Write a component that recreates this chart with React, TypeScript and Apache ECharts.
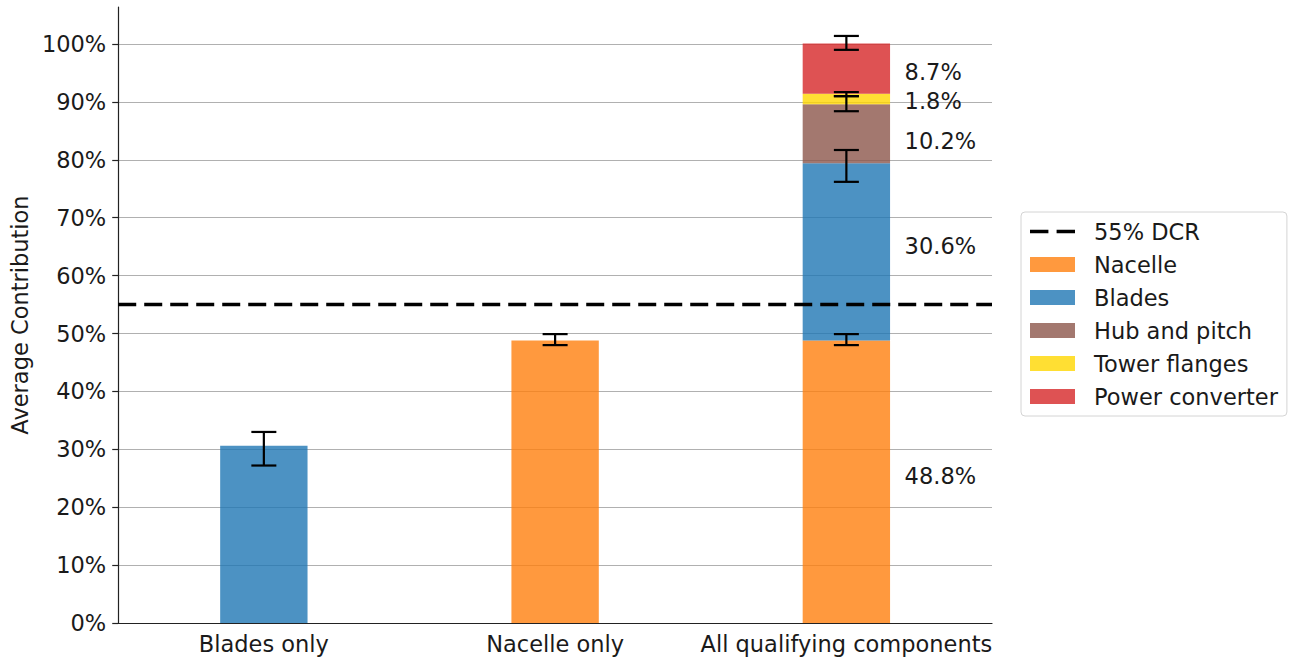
import React, { useEffect, useRef } from "react";
import * as echarts from "echarts";

const categories = ["Blades only", "Nacelle only", "All qualifying components"];
const nacelle = [0, 48.8, 48.8];
const blades = [30.6, 0, 30.6];
const hubPitch = [0, 0, 10.2];
const towerFlanges = [0, 0, 1.8];
const powerConverter = [0, 0, 8.7];
const dcrLevel = 55;
// [categoryIndex, low, high]
const errorBars = [
  [0, 27.2, 33.0],
  [1, 48.0, 49.9],
  [2, 48.0, 49.9],
  [2, 76.2, 81.7],
  [2, 88.4, 91.0],
  [2, 91.0, 91.7],
  [2, 99.0, 101.4],
];
const segmentLabels = ["48.8%", "30.6%", "10.2%", "1.8%", "8.7%"];
const segmentLabelY = [25.4, 65.1, 83.25, 90.2, 95.2];
const yMax = 106.4;

const FONT = "DejaVu Sans";
const TXT = "#1a1a1a";
const FS = 22.5;

export default function App() {
  const ref = useRef<HTMLDivElement>(null);
  useEffect(() => {
    const chart = echarts.init(ref.current!, null, { renderer: "svg" });
    const barSeries = (name: string, data: number[], color: string) => ({
      name,
      type: "bar",
      stack: "total",
      barWidth: "30%",
      data,
      itemStyle: { color },
      z: 2,
    });
    chart.setOption({
      animation: false,
      textStyle: { fontFamily: FONT },
      grid: { left: 115, right: 299, top: 7, bottom: 36, containLabel: false },
      legend: {
        orient: "vertical",
        left: 1021,
        top: 212,
        width: 267,
        padding: [8, 9, 8, 9],
        itemWidth: 45,
        itemHeight: 15,
        itemGap: 10,
        backgroundColor: "#fff",
        borderColor: "#d4d4d4",
        borderWidth: 1,
        borderRadius: 4,
        textStyle: { fontFamily: FONT, fontSize: FS, color: TXT, lineHeight: 22, padding: [0, 0, 0, 14] },
        data: [
          { name: "55% DCR", icon: "path://M0,0h18v3.5h-18z M26,0h18v3.5h-18z", itemStyle: { color: "#000" } },
          { name: "Nacelle", icon: "rect" },
          { name: "Blades", icon: "rect" },
          { name: "Hub and pitch", icon: "rect" },
          { name: "Tower flanges", icon: "rect" },
          { name: "Power converter", icon: "rect" },
        ],
      },
      xAxis: [
        {
          type: "category",
          data: categories,
          axisLine: { lineStyle: { color: "#222", width: 1.2 } },
          axisTick: { alignWithLabel: true, length: 6, lineStyle: { color: "#222", width: 1.2 } },
          axisLabel: { fontFamily: FONT, fontSize: FS, color: TXT, margin: 9, interval: 0 },
        },
        { type: "value", min: 0, max: 1, show: false },
      ],
      yAxis: {
        type: "value",
        min: 0,
        max: yMax,
        interval: 10,
        name: "Average Contribution",
        nameLocation: "middle",
        nameGap: 71,
        nameTextStyle: { fontFamily: FONT, fontSize: FS, color: TXT },
        axisLine: { show: true, lineStyle: { color: "#222", width: 1.2 } },
        axisTick: { show: true, length: 6, lineStyle: { color: "#222", width: 1.2 } },
        axisLabel: {
          fontFamily: FONT,
          fontSize: FS,
          color: TXT,
          margin: 12,
          showMaxLabel: false,
          formatter: (v: number) => (Math.abs(v % 10) < 1e-6 ? `${v}%` : ""),
        },
        splitLine: { show: true, showMaxLine: false, lineStyle: { color: "#b0b0b0", width: 1.2 } },
      },
      series: [
        {
          name: "55% DCR",
          type: "line",
          xAxisIndex: 1,
          data: [
            [0, dcrLevel],
            [1, dcrLevel],
          ],
          symbol: "none",
          lineStyle: { color: "#000", width: 3.5, type: [18, 8] },
          itemStyle: { color: "#000" },
          z: 4,
        },
        barSeries("Nacelle", nacelle, "rgba(255,127,14,0.8)"),
        barSeries("Blades", blades, "rgba(31,119,180,0.8)"),
        barSeries("Hub and pitch", hubPitch, "rgba(140,86,75,0.8)"),
        barSeries("Tower flanges", towerFlanges, "rgba(255,215,0,0.8)"),
        barSeries("Power converter", powerConverter, "rgba(214,39,40,0.8)"),
        {
          type: "custom",
          name: "errors",
          data: errorBars,
          encode: { x: 0, y: [1, 2] },
          z: 5,
          clip: false,
          renderItem: (params: any, api: any) => {
            const x = api.value(0);
            const lo = api.coord([x, api.value(1)]);
            const hi = api.coord([x, api.value(2)]);
            const hw = 12.5;
            const st = { stroke: "#000", lineWidth: 2.2 };
            return {
              type: "group",
              children: [
                { type: "line", shape: { x1: lo[0], y1: lo[1], x2: hi[0], y2: hi[1] }, style: st },
                { type: "line", shape: { x1: lo[0] - hw, y1: lo[1], x2: lo[0] + hw, y2: lo[1] }, style: st },
                { type: "line", shape: { x1: hi[0] - hw, y1: hi[1], x2: hi[0] + hw, y2: hi[1] }, style: st },
              ],
            };
          },
        },
        {
          type: "custom",
          name: "labels",
          data: segmentLabelY.map((y) => [2, y]),
          encode: { x: 0, y: 1 },
          z: 6,
          clip: false,
          renderItem: (params: any, api: any) => {
            const p = api.coord([api.value(0), api.value(1)]);
            const band = api.size([1, 0])[0];
            return {
              type: "text",
              x: p[0] + band * 0.2,
              y: p[1],
              style: {
                text: segmentLabels[params.dataIndex],
                fontFamily: FONT,
                fontSize: FS,
                fill: TXT,
                align: "left",
                verticalAlign: "middle",
              },
            };
          },
        },
      ],
    });
    return () => chart.dispose();
  }, []);
  return (
    <div
      ref={ref}
      style={{ position: "fixed", left: 0, top: 0, width: 1291, height: 659, background: "#fff" }}
    />
  );
}
